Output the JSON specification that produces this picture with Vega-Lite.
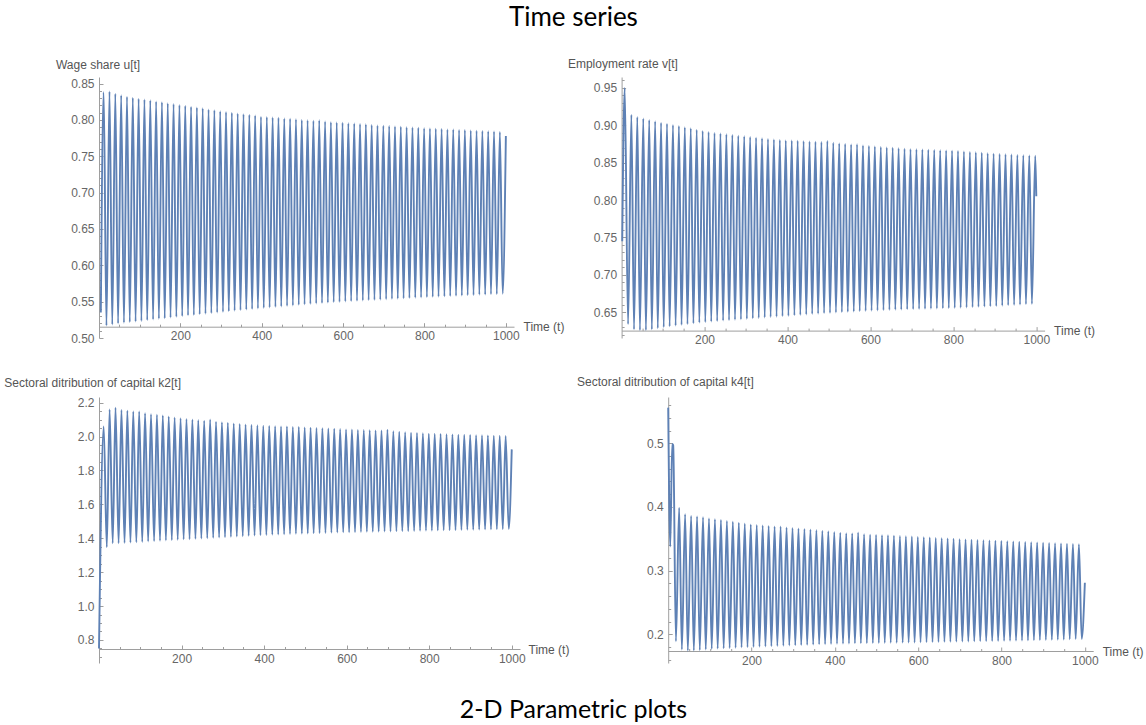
{
  "$schema": "https://vega.github.io/schema/vega-lite/v6.json",
  "background": "white",
  "padding": {"left": 3, "top": 5, "right": 0, "bottom": 0},
  "title": {"text": "Time series", "font": "Lato", "fontSize": 26, "fontWeight": "normal", "color": "#000000", "anchor": "middle", "offset": 26},
  "config": {
    "view": {"stroke": null},
    "axis": {"domainColor": "#9e9e9e", "tickColor": "#9e9e9e", "domainWidth": 1, "tickWidth": 1, "labelColor": "#666666", "titleColor": "#555555", "labelFont": "Liberation Sans", "titleFont": "Liberation Sans", "labelFontSize": 12, "titleFontSize": 12, "titleFontWeight": "normal", "grid": false, "labelFlush": false, "labelOverlap": false},
    "line": {"color": "#5E81B5", "strokeWidth": 1.9, "interpolate": "monotone", "clip": true}
  },
  "datasets": {
    "u": [{"t":4.5,"y":0.535},
      {"t":11.5,"y":0.838},{"t":18.3,"y":0.517},{"t":25.8,"y":0.839},{"t":32.6,"y":0.5185},{"t":40.1,"y":0.836},{"t":46.9,"y":0.52},{"t":54.5,"y":0.834},{"t":61.3,"y":0.521},{"t":68.8,"y":0.832},{"t":75.6,"y":0.5218},{"t":83.1,"y":0.8305},{"t":89.9,"y":0.5225},{"t":97.4,"y":0.829},{"t":104.2,"y":0.5233},{"t":111.7,"y":0.828},{"t":118.5,"y":0.5245},{"t":126.1,"y":0.827},{"t":132.9,"y":0.5255},{"t":140.4,"y":0.8255},{"t":147.2,"y":0.5265},{"t":154.7,"y":0.8245},{"t":161.5,"y":0.527},{"t":169.0,"y":0.823},{"t":175.8,"y":0.528},{"t":183.3,"y":0.822},{"t":190.1,"y":0.529},{"t":197.7,"y":0.8205},{"t":204.5,"y":0.53},{"t":212.0,"y":0.8195},{"t":218.8,"y":0.531},{"t":226.3,"y":0.818},{"t":233.1,"y":0.5315},{"t":240.6,"y":0.817},{"t":247.4,"y":0.5325},{"t":254.9,"y":0.816},{"t":261.7,"y":0.5333},{"t":269.3,"y":0.8145},{"t":276.1,"y":0.534},{"t":283.6,"y":0.8135},{"t":290.4,"y":0.535},{"t":297.9,"y":0.812},{"t":304.7,"y":0.5358},{"t":312.2,"y":0.811},{"t":319.0,"y":0.5366},{"t":326.5,"y":0.81},{"t":333.3,"y":0.5374},{"t":340.9,"y":0.809},{"t":347.7,"y":0.5382},{"t":355.2,"y":0.808},{"t":362.0,"y":0.539},{"t":369.5,"y":0.807},{"t":376.3,"y":0.5397},{"t":383.8,"y":0.806},{"t":390.6,"y":0.5405},{"t":398.1,"y":0.8045},{"t":404.9,"y":0.5412},{"t":412.5,"y":0.804},{"t":419.3,"y":0.542},{"t":426.8,"y":0.8035},{"t":433.6,"y":0.5427},{"t":441.1,"y":0.803},{"t":447.9,"y":0.5434},{"t":455.4,"y":0.802},{"t":462.2,"y":0.5441},{"t":469.7,"y":0.8015},{"t":476.5,"y":0.5448},{"t":484.1,"y":0.801},{"t":490.9,"y":0.5455},{"t":498.4,"y":0.8},{"t":505.2,"y":0.5462},{"t":512.7,"y":0.7995},{"t":519.5,"y":0.5468},{"t":527.0,"y":0.799},{"t":533.8,"y":0.5474},{"t":541.3,"y":0.7995},{"t":548.1,"y":0.548},{"t":555.7,"y":0.798},{"t":562.5,"y":0.5486},{"t":570.0,"y":0.797},{"t":576.8,"y":0.5491},{"t":584.3,"y":0.7965},{"t":591.1,"y":0.5496},{"t":598.6,"y":0.796},{"t":605.4,"y":0.5502},{"t":612.9,"y":0.7955},{"t":619.7,"y":0.5506},{"t":627.3,"y":0.795},{"t":634.1,"y":0.551},{"t":641.6,"y":0.7945},{"t":648.4,"y":0.5515},{"t":655.9,"y":0.794},{"t":662.7,"y":0.5519},{"t":670.2,"y":0.793},{"t":677.0,"y":0.5523},{"t":684.5,"y":0.7925},{"t":691.3,"y":0.5527},{"t":698.9,"y":0.792},{"t":705.7,"y":0.5532},{"t":713.2,"y":0.7915},{"t":720.0,"y":0.5536},{"t":727.5,"y":0.791},{"t":734.3,"y":0.554},{"t":741.8,"y":0.7905},{"t":748.6,"y":0.5545},{"t":756.1,"y":0.79},{"t":762.9,"y":0.5549},{"t":770.5,"y":0.7897},{"t":777.3,"y":0.5553},{"t":784.8,"y":0.7892},{"t":791.6,"y":0.5557},{"t":799.1,"y":0.7887},{"t":805.9,"y":0.5561},{"t":813.4,"y":0.7883},{"t":820.2,"y":0.5565},{"t":827.7,"y":0.788},{"t":834.5,"y":0.5568},{"t":842.1,"y":0.7875},{"t":848.9,"y":0.5572},{"t":856.4,"y":0.787},{"t":863.2,"y":0.5576},{"t":870.7,"y":0.7867},{"t":877.5,"y":0.5579},{"t":885.0,"y":0.7863},{"t":891.8,"y":0.5583},{"t":899.3,"y":0.786},{"t":906.1,"y":0.5587},{"t":913.7,"y":0.7856},{"t":920.5,"y":0.559},{"t":928.0,"y":0.7852},{"t":934.8,"y":0.5594},{"t":942.3,"y":0.7848},{"t":949.1,"y":0.5597},{"t":956.6,"y":0.7844},{"t":963.4,"y":0.5601},{"t":970.9,"y":0.784},{"t":977.7,"y":0.5604},{"t":985.3,"y":0.7835},{"t":992.1,"y":0.5608},{"t":1000,"y":0.778}],
    "v": [{"t":1.5,"y":0.745},{"t":7.5,"y":0.95},
      {"t":15.6,"y":0.634},{"t":23.6,"y":0.914},{"t":29.9,"y":0.627},{"t":37.9,"y":0.911},{"t":44.2,"y":0.626},{"t":52.3,"y":0.909},{"t":58.6,"y":0.626},{"t":66.6,"y":0.907},{"t":72.9,"y":0.627},{"t":80.9,"y":0.9055},{"t":87.2,"y":0.6285},{"t":95.2,"y":0.9035},{"t":101.5,"y":0.63},{"t":109.5,"y":0.902},{"t":115.8,"y":0.631},{"t":123.9,"y":0.9005},{"t":130.2,"y":0.632},{"t":138.2,"y":0.899},{"t":144.5,"y":0.633},{"t":152.5,"y":0.8975},{"t":158.8,"y":0.634},{"t":166.8,"y":0.896},{"t":173.1,"y":0.635},{"t":181.1,"y":0.894},{"t":187.4,"y":0.636},{"t":195.5,"y":0.8925},{"t":201.8,"y":0.6367},{"t":209.8,"y":0.891},{"t":216.1,"y":0.6374},{"t":224.1,"y":0.8898},{"t":230.4,"y":0.6381},{"t":238.4,"y":0.8889},{"t":244.7,"y":0.6387},{"t":252.7,"y":0.888},{"t":259.0,"y":0.6393},{"t":267.1,"y":0.887},{"t":273.4,"y":0.6399},{"t":281.4,"y":0.8861},{"t":287.7,"y":0.6404},{"t":295.7,"y":0.8852},{"t":302.0,"y":0.641},{"t":310.0,"y":0.8843},{"t":316.3,"y":0.6417},{"t":324.3,"y":0.8835},{"t":330.6,"y":0.6423},{"t":338.7,"y":0.8826},{"t":345.0,"y":0.6429},{"t":353.0,"y":0.8818},{"t":359.3,"y":0.6435},{"t":367.3,"y":0.881},{"t":373.6,"y":0.644},{"t":381.6,"y":0.8803},{"t":387.9,"y":0.6445},{"t":395.9,"y":0.8798},{"t":402.2,"y":0.645},{"t":410.3,"y":0.8797},{"t":416.6,"y":0.6457},{"t":424.6,"y":0.8793},{"t":430.9,"y":0.6463},{"t":438.9,"y":0.8788},{"t":445.2,"y":0.6469},{"t":453.2,"y":0.8784},{"t":459.5,"y":0.6475},{"t":467.5,"y":0.878},{"t":473.8,"y":0.648},{"t":481.9,"y":0.8775},{"t":488.2,"y":0.6486},{"t":496.2,"y":0.879},{"t":502.5,"y":0.649},{"t":510.5,"y":0.8765},{"t":516.8,"y":0.6495},{"t":524.8,"y":0.8758},{"t":531.1,"y":0.65},{"t":539.1,"y":0.875},{"t":545.4,"y":0.6504},{"t":553.5,"y":0.8743},{"t":559.8,"y":0.6508},{"t":567.8,"y":0.8745},{"t":574.1,"y":0.6512},{"t":582.1,"y":0.8729},{"t":588.4,"y":0.6516},{"t":596.4,"y":0.8722},{"t":602.7,"y":0.652},{"t":610.7,"y":0.8716},{"t":617.0,"y":0.6523},{"t":625.1,"y":0.871},{"t":631.4,"y":0.6527},{"t":639.4,"y":0.8704},{"t":645.7,"y":0.653},{"t":653.7,"y":0.8699},{"t":660.0,"y":0.6533},{"t":668.0,"y":0.8693},{"t":674.3,"y":0.6535},{"t":682.3,"y":0.8687},{"t":688.6,"y":0.6538},{"t":696.7,"y":0.8681},{"t":703.0,"y":0.654},{"t":711.0,"y":0.8678},{"t":717.3,"y":0.6542},{"t":725.3,"y":0.8675},{"t":731.6,"y":0.6545},{"t":739.6,"y":0.8672},{"t":745.9,"y":0.6547},{"t":753.9,"y":0.8669},{"t":760.2,"y":0.6549},{"t":768.3,"y":0.8666},{"t":774.6,"y":0.6551},{"t":782.6,"y":0.8663},{"t":788.9,"y":0.6553},{"t":796.9,"y":0.8661},{"t":803.2,"y":0.6556},{"t":811.2,"y":0.8655},{"t":817.5,"y":0.656},{"t":825.5,"y":0.865},{"t":831.8,"y":0.6563},{"t":839.9,"y":0.8644},{"t":846.2,"y":0.6567},{"t":854.2,"y":0.8638},{"t":860.5,"y":0.6571},{"t":868.5,"y":0.8633},{"t":874.8,"y":0.6574},{"t":882.8,"y":0.8627},{"t":889.1,"y":0.6578},{"t":897.1,"y":0.8621},{"t":903.4,"y":0.6581},{"t":911.5,"y":0.8617},{"t":917.8,"y":0.6587},{"t":925.8,"y":0.8613},{"t":932.1,"y":0.6592},{"t":940.1,"y":0.8608},{"t":946.4,"y":0.6597},{"t":954.4,"y":0.8604},{"t":960.7,"y":0.6601},{"t":968.7,"y":0.8599},{"t":975.0,"y":0.6606},{"t":983.1,"y":0.8595},{"t":989.4,"y":0.661},{"t":997.4,"y":0.8591},{"t":1000,"y":0.805}],
    "k2": [{"t":0,"y":0.75},
      {"t":11.4,"y":2.06},{"t":18.9,"y":1.347},{"t":25.7,"y":2.16},{"t":33.2,"y":1.37},{"t":40.0,"y":2.17},{"t":47.5,"y":1.37},{"t":54.4,"y":2.157},{"t":61.9,"y":1.372},{"t":68.7,"y":2.152},{"t":76.2,"y":1.374},{"t":83.0,"y":2.148},{"t":90.5,"y":1.376},{"t":97.3,"y":2.148},{"t":104.8,"y":1.378},{"t":111.6,"y":2.137},{"t":119.1,"y":1.381},{"t":126.0,"y":2.132},{"t":133.5,"y":1.383},{"t":140.3,"y":2.128},{"t":147.8,"y":1.385},{"t":154.6,"y":2.124},{"t":162.1,"y":1.387},{"t":168.9,"y":2.118},{"t":176.4,"y":1.389},{"t":183.2,"y":2.113},{"t":190.7,"y":1.391},{"t":197.6,"y":2.108},{"t":205.1,"y":1.393},{"t":211.9,"y":2.104},{"t":219.4,"y":1.394},{"t":226.2,"y":2.1},{"t":233.7,"y":1.396},{"t":240.5,"y":2.097},{"t":248.0,"y":1.398},{"t":254.8,"y":2.093},{"t":262.3,"y":1.4},{"t":269.2,"y":2.1},{"t":276.7,"y":1.402},{"t":283.5,"y":2.087},{"t":291.0,"y":1.404},{"t":297.8,"y":2.084},{"t":305.3,"y":1.406},{"t":312.1,"y":2.081},{"t":319.6,"y":1.408},{"t":326.4,"y":2.077},{"t":333.9,"y":1.41},{"t":340.8,"y":2.074},{"t":348.3,"y":1.412},{"t":355.1,"y":2.071},{"t":362.6,"y":1.414},{"t":369.4,"y":2.069},{"t":376.9,"y":1.416},{"t":383.7,"y":2.066},{"t":391.2,"y":1.418},{"t":398.0,"y":2.063},{"t":405.5,"y":1.419},{"t":412.4,"y":2.062},{"t":419.9,"y":1.421},{"t":426.7,"y":2.061},{"t":434.2,"y":1.422},{"t":441.0,"y":2.06},{"t":448.5,"y":1.423},{"t":455.3,"y":2.059},{"t":462.8,"y":1.425},{"t":469.6,"y":2.057},{"t":477.1,"y":1.426},{"t":484.0,"y":2.056},{"t":491.5,"y":1.427},{"t":498.3,"y":2.054},{"t":505.8,"y":1.428},{"t":512.6,"y":2.052},{"t":520.1,"y":1.429},{"t":526.9,"y":2.051},{"t":534.4,"y":1.43},{"t":541.2,"y":2.049},{"t":548.7,"y":1.431},{"t":555.6,"y":2.047},{"t":563.1,"y":1.433},{"t":569.9,"y":2.046},{"t":577.4,"y":1.434},{"t":584.2,"y":2.044},{"t":591.7,"y":1.435},{"t":598.5,"y":2.042},{"t":606.0,"y":1.435},{"t":612.8,"y":2.041},{"t":620.3,"y":1.436},{"t":627.2,"y":2.039},{"t":634.7,"y":1.437},{"t":641.5,"y":2.038},{"t":649.0,"y":1.438},{"t":655.8,"y":2.037},{"t":663.3,"y":1.438},{"t":670.1,"y":2.036},{"t":677.6,"y":1.439},{"t":684.4,"y":2.035},{"t":691.9,"y":1.44},{"t":698.8,"y":2.04},{"t":706.3,"y":1.44},{"t":713.1,"y":2.032},{"t":720.6,"y":1.441},{"t":727.4,"y":2.029},{"t":734.9,"y":1.442},{"t":741.7,"y":2.026},{"t":749.2,"y":1.442},{"t":756.0,"y":2.023},{"t":763.5,"y":1.443},{"t":770.4,"y":2.021},{"t":777.9,"y":1.444},{"t":784.7,"y":2.019},{"t":792.2,"y":1.445},{"t":799.0,"y":2.017},{"t":806.5,"y":1.445},{"t":813.3,"y":2.016},{"t":820.8,"y":1.446},{"t":827.6,"y":2.015},{"t":835.1,"y":1.447},{"t":842.0,"y":2.013},{"t":849.5,"y":1.447},{"t":856.3,"y":2.012},{"t":863.8,"y":1.448},{"t":870.6,"y":2.011},{"t":878.1,"y":1.449},{"t":884.9,"y":2.01},{"t":892.4,"y":1.45},{"t":899.2,"y":2.009},{"t":906.7,"y":1.45},{"t":913.6,"y":2.008},{"t":921.1,"y":1.451},{"t":927.9,"y":2.007},{"t":935.4,"y":1.452},{"t":942.2,"y":2.006},{"t":949.7,"y":1.452},{"t":956.5,"y":2.005},{"t":964.0,"y":1.453},{"t":970.8,"y":2.004},{"t":978.3,"y":1.454},{"t":985.2,"y":2.003},{"t":992.7,"y":1.455},{"t":1000,"y":1.924}],
    "k4": [{"t":0,"y":0.556},{"t":5,"y":0.338},{"t":9.5,"y":0.499},{"t":12,"y":0.497},{"t":18.5,"y":0.189},
      {"t":26.3,"y":0.399},{"t":32.8,"y":0.176},{"t":40.6,"y":0.3885},{"t":47.1,"y":0.1742},{"t":55.0,"y":0.386},{"t":61.5,"y":0.1745},{"t":69.3,"y":0.385},{"t":75.8,"y":0.1752},{"t":83.6,"y":0.384},{"t":90.1,"y":0.1762},{"t":97.9,"y":0.382},{"t":104.4,"y":0.1771},{"t":112.2,"y":0.3808},{"t":118.7,"y":0.1775},{"t":126.6,"y":0.3795},{"t":133.1,"y":0.1779},{"t":140.9,"y":0.3781},{"t":147.4,"y":0.1784},{"t":155.2,"y":0.3767},{"t":161.7,"y":0.1788},{"t":169.5,"y":0.3753},{"t":176.0,"y":0.1793},{"t":183.8,"y":0.3739},{"t":190.3,"y":0.1797},{"t":198.2,"y":0.3725},{"t":204.7,"y":0.1801},{"t":212.5,"y":0.3718},{"t":219.0,"y":0.1805},{"t":226.8,"y":0.371},{"t":233.3,"y":0.1808},{"t":241.1,"y":0.3701},{"t":247.6,"y":0.1812},{"t":255.4,"y":0.3693},{"t":261.9,"y":0.1815},{"t":269.8,"y":0.3695},{"t":276.3,"y":0.1819},{"t":284.1,"y":0.3677},{"t":290.6,"y":0.1823},{"t":298.4,"y":0.3669},{"t":304.9,"y":0.1826},{"t":312.7,"y":0.3662},{"t":319.2,"y":0.183},{"t":327.0,"y":0.3654},{"t":333.5,"y":0.1833},{"t":341.4,"y":0.3646},{"t":347.9,"y":0.1837},{"t":355.7,"y":0.3637},{"t":362.2,"y":0.1841},{"t":370.0,"y":0.3628},{"t":376.5,"y":0.1844},{"t":384.3,"y":0.3619},{"t":390.8,"y":0.1848},{"t":398.6,"y":0.3609},{"t":405.1,"y":0.1851},{"t":413.0,"y":0.3595},{"t":419.5,"y":0.1853},{"t":427.3,"y":0.3589},{"t":433.8,"y":0.1855},{"t":441.6,"y":0.3583},{"t":448.1,"y":0.1857},{"t":455.9,"y":0.3598},{"t":462.4,"y":0.1858},{"t":470.2,"y":0.3571},{"t":476.7,"y":0.1859},{"t":484.6,"y":0.3566},{"t":491.1,"y":0.1861},{"t":498.9,"y":0.356},{"t":505.4,"y":0.1862},{"t":513.2,"y":0.3556},{"t":519.7,"y":0.1864},{"t":527.5,"y":0.3557},{"t":534.0,"y":0.1866},{"t":541.8,"y":0.3548},{"t":548.3,"y":0.1867},{"t":556.2,"y":0.3543},{"t":562.7,"y":0.1869},{"t":570.5,"y":0.3539},{"t":577.0,"y":0.187},{"t":584.8,"y":0.3535},{"t":591.3,"y":0.1872},{"t":599.1,"y":0.353},{"t":605.6,"y":0.1874},{"t":613.4,"y":0.3525},{"t":619.9,"y":0.1875},{"t":627.8,"y":0.352},{"t":634.3,"y":0.1877},{"t":642.1,"y":0.3515},{"t":648.6,"y":0.1879},{"t":656.4,"y":0.351},{"t":662.9,"y":0.1881},{"t":670.7,"y":0.3505},{"t":677.2,"y":0.1882},{"t":685.0,"y":0.35},{"t":691.5,"y":0.1884},{"t":699.4,"y":0.3495},{"t":705.9,"y":0.1886},{"t":713.7,"y":0.3491},{"t":720.2,"y":0.1887},{"t":728.0,"y":0.3487},{"t":734.5,"y":0.1889},{"t":742.3,"y":0.3483},{"t":748.8,"y":0.189},{"t":756.6,"y":0.3479},{"t":763.1,"y":0.1891},{"t":771.0,"y":0.3475},{"t":777.5,"y":0.1893},{"t":785.3,"y":0.347},{"t":791.8,"y":0.1894},{"t":799.6,"y":0.3466},{"t":806.1,"y":0.1896},{"t":813.9,"y":0.3462},{"t":820.4,"y":0.1898},{"t":828.2,"y":0.3459},{"t":834.7,"y":0.19},{"t":842.6,"y":0.3455},{"t":849.1,"y":0.1902},{"t":856.9,"y":0.3451},{"t":863.4,"y":0.1904},{"t":871.2,"y":0.3447},{"t":877.7,"y":0.1906},{"t":885.5,"y":0.3444},{"t":892.0,"y":0.1909},{"t":899.8,"y":0.344},{"t":906.3,"y":0.1911},{"t":914.2,"y":0.3436},{"t":920.7,"y":0.1913},{"t":928.5,"y":0.3432},{"t":935.0,"y":0.1915},{"t":942.8,"y":0.3428},{"t":949.3,"y":0.1917},{"t":957.1,"y":0.3424},{"t":963.6,"y":0.1922},{"t":971.4,"y":0.342},{"t":977.9,"y":0.1925},{"t":985.8,"y":0.3414},{"t":992.3,"y":0.1928},{"t":1000,"y":0.281}]
  },
  "spacing": 27,
  "vconcat": [
    {
      "bounds": "flush",
      "spacing": 107.6,
      "hconcat": [
        {
          "width": 415, "height": 261,
          "data": {"name": "u"},
          "mark": {"type": "line"},
          "encoding": {
            "x": {"field": "t", "type": "quantitative", "scale": {"domain": [0, 1020], "nice": false, "zero": false},
              "axis": {"title": "Time (t)", "titleX": 424, "titleY": 0, "titleAlign": "left", "titleBaseline": "middle", "titleAngle": 0, "offset": -11.3,
                "values": [50,100,150,200,250,300,350,400,450,500,550,600,650,700,750,800,850,900,950,1000],
                "format": "d", "labelExpr": "datum.value % 200 === 0 ? datum.label : ''",
                "tickSize": {"condition": {"test": "datum.value % 200 === 0", "value": -4}, "value": -2.5}, "labelPadding": 8}},
            "y": {"field": "y", "type": "quantitative", "scale": {"domain": [0.5, 0.859], "nice": false, "zero": false},
              "axis": {"title": "Wage share u[t]", "titleX": -43.6, "titleY": -12.7, "titleAlign": "left", "titleBaseline": "middle", "titleAngle": 0,
                "values": [0.5,0.51,0.52,0.53,0.54,0.55,0.56,0.57,0.58,0.59,0.6,0.61,0.62,0.63,0.64,0.65,0.66,0.67,0.68,0.69,0.7,0.71,0.72,0.73,0.74,0.75,0.76,0.77,0.78,0.79,0.8,0.81,0.82,0.83,0.84,0.85],
                "labelExpr": "abs(datum.value * 20 - round(datum.value * 20)) < 0.001 ? format(datum.value, '.2f') : ''",
                "tickSize": {"condition": {"test": "abs(datum.value * 20 - round(datum.value * 20)) < 0.001", "value": -4}, "value": -2.5}, "labelPadding": 9}}
          }
        },
        {
          "width": 423, "height": 261,
          "data": {"name": "v"},
          "mark": {"type": "line"},
          "encoding": {
            "x": {"field": "t", "type": "quantitative", "scale": {"domain": [0, 1020], "nice": false, "zero": false},
              "axis": {"title": "Time (t)", "titleX": 432, "titleY": 0, "titleAlign": "left", "titleBaseline": "middle", "titleAngle": 0, "offset": -7.4,
                "values": [50,100,150,200,250,300,350,400,450,500,550,600,650,700,750,800,850,900,950,1000],
                "format": "d", "labelExpr": "datum.value % 200 === 0 ? datum.label : ''",
                "tickSize": {"condition": {"test": "datum.value % 200 === 0", "value": -4}, "value": -2.5}, "labelPadding": 8}},
            "y": {"field": "y", "type": "quantitative", "scale": {"domain": [0.6155, 0.9645], "nice": false, "zero": false},
              "axis": {"title": "Employment rate v[t]", "titleX": -54.2, "titleY": -14, "titleAlign": "left", "titleBaseline": "middle", "titleAngle": 0,
                "values": [0.62,0.63,0.64,0.65,0.66,0.67,0.68,0.69,0.7,0.71,0.72,0.73,0.74,0.75,0.76,0.77,0.78,0.79,0.8,0.81,0.82,0.83,0.84,0.85,0.86,0.87,0.88,0.89,0.9,0.91,0.92,0.93,0.94,0.95,0.96],
                "labelExpr": "abs(datum.value * 20 - round(datum.value * 20)) < 0.001 ? format(datum.value, '.2f') : ''",
                "tickSize": {"condition": {"test": "abs(datum.value * 20 - round(datum.value * 20)) < 0.001", "value": -4}, "value": -2.5}, "labelPadding": 9}}
          }
        }
      ]
    },
    {
      "bounds": "flush",
      "spacing": 148.2,
      "title": {"text": "2-D Parametric plots", "orient": "bottom", "anchor": "middle", "font": "Lato", "fontSize": 25, "fontWeight": "normal", "color": "#000000", "offset": 30},
      "hconcat": [
        {
          "width": 421, "height": 266,
          "data": {"name": "k2"},
          "mark": {"type": "line"},
          "encoding": {
            "x": {"field": "t", "type": "quantitative", "scale": {"domain": [0, 1020], "nice": false, "zero": false},
              "axis": {"title": "Time (t)", "titleX": 429, "titleY": 0, "titleAlign": "left", "titleBaseline": "middle", "titleAngle": 0, "offset": -14,
                "values": [50,100,150,200,250,300,350,400,450,500,550,600,650,700,750,800,850,900,950,1000],
                "format": "d", "labelExpr": "datum.value % 200 === 0 ? datum.label : ''",
                "tickSize": {"condition": {"test": "datum.value % 200 === 0", "value": -4}, "value": -2.5}, "labelPadding": 8}},
            "y": {"field": "y", "type": "quantitative", "scale": {"domain": [0.664, 2.233], "nice": false, "zero": false},
              "axis": {"title": "Sectoral ditribution of capital k2[t]", "titleX": -95.3, "titleY": -14.3, "titleAlign": "left", "titleBaseline": "middle", "titleAngle": 0,
                "values": [0.7,0.75,0.8,0.85,0.9,0.95,1.0,1.05,1.1,1.15,1.2,1.25,1.3,1.35,1.4,1.45,1.5,1.55,1.6,1.65,1.7,1.75,1.8,1.85,1.9,1.95,2.0,2.05,2.1,2.15,2.2],
                "labelExpr": "abs(datum.value * 5 - round(datum.value * 5)) < 0.001 ? format(datum.value, '.1f') : ''",
                "tickSize": {"condition": {"test": "abs(datum.value * 5 - round(datum.value * 5)) < 0.001", "value": -4}, "value": -2.5}, "labelPadding": 9}}
          }
        },
        {
          "width": 425, "height": 266,
          "data": {"name": "k4"},
          "mark": {"type": "line"},
          "encoding": {
            "x": {"field": "t", "type": "quantitative", "scale": {"domain": [0, 1020], "nice": false, "zero": false},
              "axis": {"title": "Time (t)", "titleX": 434, "titleY": 0, "titleAlign": "left", "titleBaseline": "middle", "titleAngle": 0, "offset": -12,
                "values": [50,100,150,200,250,300,350,400,450,500,550,600,650,700,750,800,850,900,950,1000],
                "format": "d", "labelExpr": "datum.value % 200 === 0 ? datum.label : ''",
                "tickSize": {"condition": {"test": "datum.value % 200 === 0", "value": -4}, "value": -2.5}, "labelPadding": 8}},
            "y": {"field": "y", "type": "quantitative", "scale": {"domain": [0.1549, 0.5727], "nice": false, "zero": false},
              "axis": {"title": "Sectoral ditribution of capital k4[t]", "titleX": -91.75, "titleY": -16, "titleAlign": "left", "titleBaseline": "middle", "titleAngle": 0,
                "values": [0.16,0.18,0.2,0.22,0.24,0.26,0.28,0.3,0.32,0.34,0.36,0.38,0.4,0.42,0.44,0.46,0.48,0.5,0.52,0.54,0.56],
                "labelExpr": "abs(datum.value * 10 - round(datum.value * 10)) < 0.001 ? format(datum.value, '.1f') : ''",
                "tickSize": {"condition": {"test": "abs(datum.value * 10 - round(datum.value * 10)) < 0.001", "value": -4}, "value": -2.5}, "labelPadding": 9}}
          }
        }
      ]
    }
  ]
}
